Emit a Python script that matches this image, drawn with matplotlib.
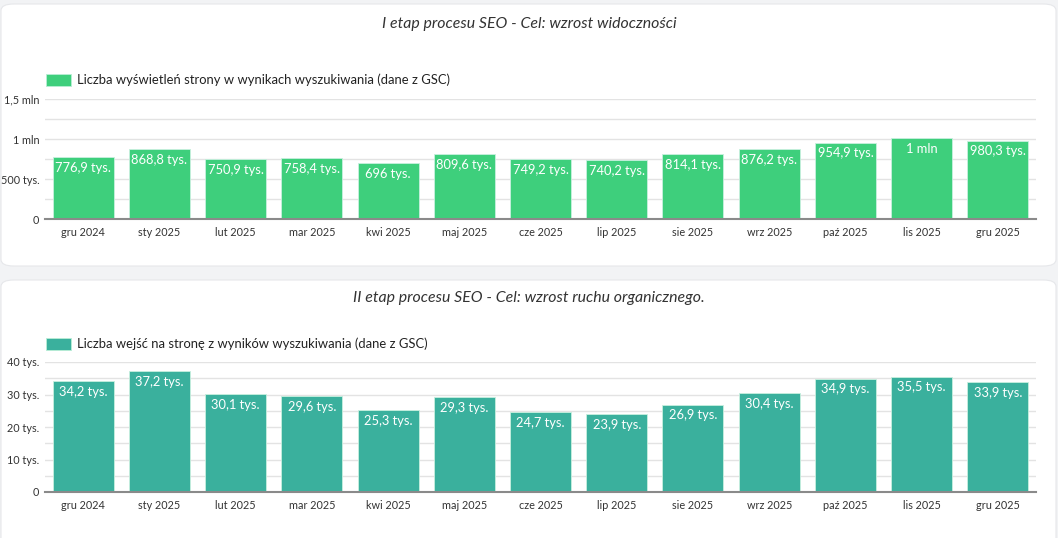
import matplotlib

matplotlib.use("Agg")
import matplotlib.pyplot as plt
from matplotlib.patches import FancyBboxPatch, Rectangle
from matplotlib.ticker import MultipleLocator


MONTHS = ["gru 2024", "sty 2025", "lut 2025", "mar 2025", "kwi 2025", "maj 2025", "cze 2025",
          "lip 2025", "sie 2025", "wrz 2025", "paź 2025", "lis 2025", "gru 2025"]

IMPRESSIONS = [776900, 868800, 750900, 758400, 696000, 809600, 749200,
               740200, 814100, 876200, 954900, 1016000, 980300]
CLICKS = [34200, 37200, 30100, 29600, 25300, 29300, 24700,
          23900, 26900, 30400, 34900, 35500, 33900]

TITLE_1 = "I etap procesu SEO - Cel: wzrost widoczności"
TITLE_2 = "II etap procesu SEO - Cel: wzrost ruchu organicznego."
LEGEND_1 = "Liczba wyświetleń strony w wynikach wyszukiwania (dane z GSC)"
LEGEND_2 = "Liczba wejść na stronę z wyników wyszukiwania (dane z GSC)"

GREEN = "#3ecf7c"
TEAL = "#3ab09d"
W, H = 1058, 538

plt.rcParams["font.family"] = ["Lato", "DejaVu Sans"]


def fmt(v):
    if v >= 1e6:
        s = f"{v / 1e6:.1f}".replace(".", ",").replace(",0", "")
        return f"{s} mln"
    if v == 0:
        return "0"
    s = f"{v / 1e3:.1f}".replace(".", ",")
    if s.endswith(",0"):
        s = s[:-2]
    return f"{s} tys."


def px(x0, y0, x1, y1):
    # pixel box (top-left origin) -> figure fraction rect
    return [x0 / W, 1 - y1 / H, (x1 - x0) / W, (y1 - y0) / H]


def draw_panel(fig, card, axbox, title, title_y, legend, legend_y, values, color, ymax, major, minor):
    x0, y0, x1, y1 = card
    fig.patches.append(FancyBboxPatch((x0 / W, 1 - y1 / H), (x1 - x0) / W, (y1 - y0) / H,
                                      boxstyle="round,pad=0,rounding_size=0.012",
                                      transform=fig.transFigure, facecolor="white",
                                      edgecolor="#e6e7ea", linewidth=0.8, zorder=-5))
    fig.text(0.5, 1 - title_y / H, title, ha="center", va="center", fontsize=11.4,
             style="italic", color="#333333")
    fig.patches.append(Rectangle((46 / W, 1 - (legend_y + 6) / H), 25 / W, 12 / H,
                                 transform=fig.transFigure, facecolor=color,
                                 edgecolor="#b9eed6", linewidth=0.6, zorder=-4))
    fig.text(77 / W, 1 - legend_y / H, legend, ha="left", va="center", fontsize=9.4,
             color="#222222")

    ax = fig.add_axes(px(*axbox), zorder=2)
    xs = range(len(values))
    ax.bar(xs, values, width=0.8, color=color, edgecolor="#c8f0df", linewidth=0.6, zorder=2)
    for x, v in zip(xs, values):
        ax.annotate(fmt(v), (x, v), xytext=(0, -3.5), textcoords="offset points",
                    ha="center", va="top", color="white", fontsize=9.3, zorder=3)
    ax.set_xlim(-0.5, len(values) - 0.5)
    ax.set_ylim(0, ymax)
    ax.yaxis.set_major_locator(MultipleLocator(major))
    ax.yaxis.set_minor_locator(MultipleLocator(minor))
    ax.set_yticks(ax.get_yticks())
    ax.set_yticklabels([fmt(t) for t in ax.get_yticks()])
    ax.set_ylim(0, ymax)
    ax.set_xticks(list(xs))
    ax.set_xticklabels(MONTHS)
    ax.grid(axis="y", which="both", color="#e3e3e3", linewidth=1, zorder=0)
    ax.set_axisbelow(True)
    ax.tick_params(axis="both", which="both", length=0, labelsize=7.8, colors="#333333")
    ax.tick_params(axis="x", pad=6)
    ax.tick_params(axis="y", pad=4)
    for side in ["top", "right", "left"]:
        ax.spines[side].set_visible(False)
    ax.spines["bottom"].set_color("#8a8a8a")
    ax.spines["bottom"].set_linewidth(1.5)
    ax.spines["bottom"].set_zorder(4)
    ax.set_facecolor("none")
    return ax


fig = plt.figure(figsize=(W / 100, H / 100), dpi=100)
fig.patch.set_facecolor("#f2f3f5")

draw_panel(fig, (1, 4, 1056, 266), (45, 99, 1036, 219), TITLE_1, 24, LEGEND_1, 80,
           IMPRESSIONS, GREEN, 1500000, 500000, 250000)
draw_panel(fig, (1, 280, 1056, 545), (45, 362, 1036, 492), TITLE_2, 298, LEGEND_2, 344,
           CLICKS, TEAL, 40000, 10000, 5000)

fig.savefig("out.png", dpi=100, facecolor=fig.get_facecolor())
